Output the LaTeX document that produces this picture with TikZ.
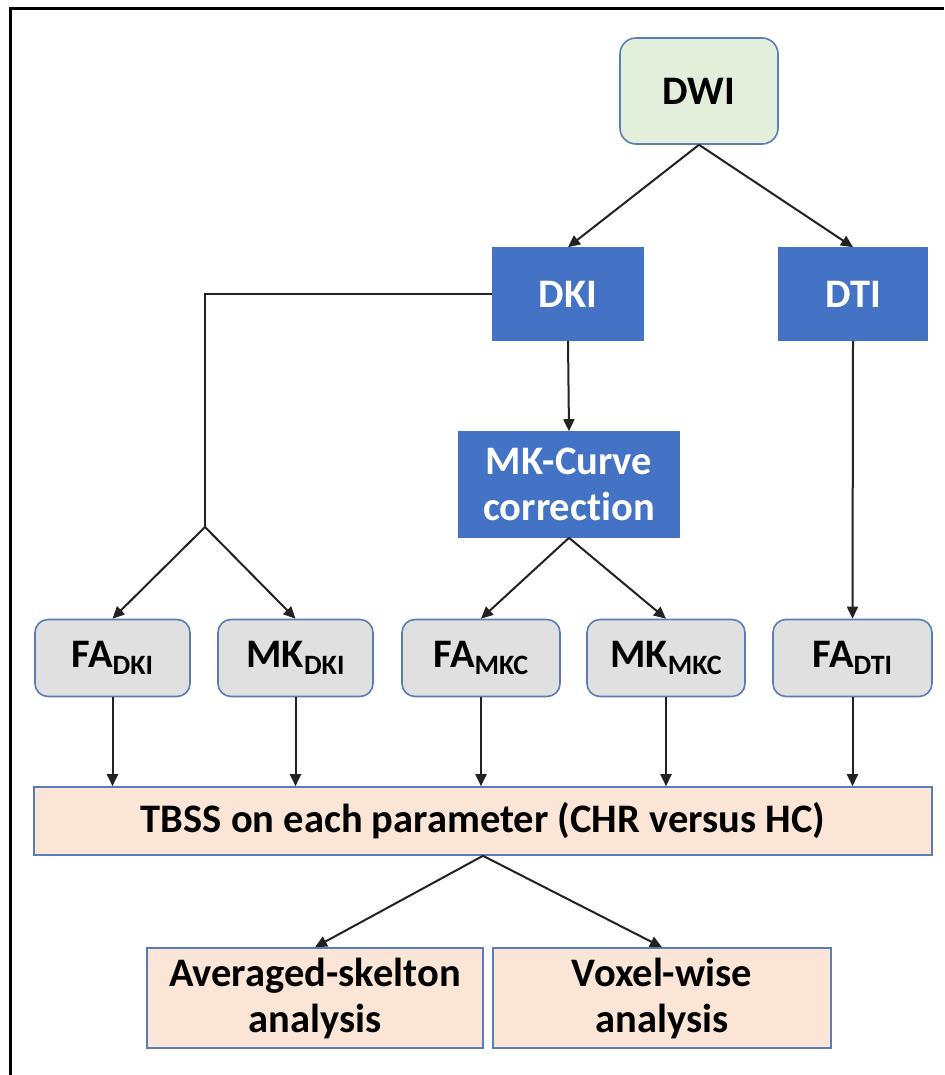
\documentclass[tikz,border=0pt]{standalone}
\usepackage{fontspec}
\setmainfont{Carlito}[Ligatures=NoCommon]
\usetikzlibrary{arrows.meta}
\definecolor{bordblue}{HTML}{5A7DB5}
\definecolor{dwifill}{HTML}{E2EFDA}
\definecolor{bluefill}{HTML}{4472C4}
\definecolor{grayfill}{HTML}{E0E0E0}
\definecolor{peach}{HTML}{FBE5D6}
\definecolor{linecol}{HTML}{222222}
\newcommand\sbx[1]{\raisebox{-7pt}{\fontsize{28}{28}\selectfont #1}}
\tikzset{
  base/.style={draw=bordblue, line width=1.6pt, inner sep=0pt, align=center,
    font=\fontsize{40.5}{46}\selectfont\bfseries},
  greenbox/.style={base, fill=dwifill, rounded corners=16pt},
  bluebox/.style={base, fill=bluefill, draw=bluefill, text=white},
  graybox/.style={base, fill=grayfill, rounded corners=13pt},
  peachbox/.style={base, fill=peach},
  conn/.style={draw=linecol, line width=2pt, -{Triangle[length=12pt,width=11pt]}},
  plainconn/.style={draw=linecol, line width=2pt}
}
\begin{document}
\begin{tikzpicture}[x=1pt,y=-1pt]
\useasboundingbox (0,0) rectangle (944,1075);
\fill[white] (0,0) rectangle (944,1075);
% partial frame (top and left)
\draw[line width=3pt, black] (10,1075) -- (10,9) -- (944,9);

\node[greenbox, minimum width=158pt, minimum height=106pt] (dwi) at (699,91) {DWI};
\node[bluebox, minimum width=150pt, minimum height=92pt] (dki) at (568,294) {DKI};
\node[bluebox, minimum width=149pt, minimum height=92pt] (dti) at (853,294) {DTI};
\node[bluebox, minimum width=220pt, minimum height=105pt] (mkc) at (569,484.5) {MK-Curve\\correction};

\node[graybox, minimum width=155pt, minimum height=77pt] (fadki) at (112.5,658) {FA\sbx{DKI}};
\node[graybox, minimum width=155pt, minimum height=77pt] (mkdki) at (295.5,658) {MK\sbx{DKI}};
\node[graybox, minimum width=158pt, minimum height=77pt] (famkc) at (481,658) {FA\sbx{MKC}};
\node[graybox, minimum width=158pt, minimum height=77pt] (mkmkc) at (666,658) {MK\sbx{MKC}};
\node[graybox, minimum width=159pt, minimum height=77pt] (fadti) at (852.5,658) {FA\sbx{DTI}};

\node[peachbox, minimum width=898pt, minimum height=68pt] (tbss) at (483,821) {TBSS on each parameter (CHR versus HC)};
\node[peachbox, minimum width=336pt, minimum height=100pt] (avg) at (315,998) {Averaged-skelton\\analysis};
\node[peachbox, minimum width=338pt, minimum height=100pt] (vox) at (662,998) {Voxel-wise\\analysis};

\coordinate (lcorner) at (205,294);
\coordinate (junc) at (205,527);

\draw[conn] (dwi.south) -- (dki.north);
\draw[conn] (dwi.south) -- (dti.north);
\draw[plainconn] (dki.west) -- (lcorner) -- (junc);
\draw[conn] (junc) -- (fadki.north);
\draw[conn] (junc) -- (mkdki.north);
\draw[conn] (dki.south) -- (mkc.north);
\draw[conn] (mkc.south) -- (famkc.north);
\draw[conn] (mkc.south) -- (mkmkc.north);
\draw[conn] (dti.south) -- (fadti.north);

\draw[conn] (fadki.south) -- (fadki.south |- tbss.north);
\draw[conn] (mkdki.south) -- (mkdki.south |- tbss.north);
\draw[conn] (famkc.south) -- (famkc.south |- tbss.north);
\draw[conn] (mkmkc.south) -- (mkmkc.south |- tbss.north);
\draw[conn] (fadti.south) -- (fadti.south |- tbss.north);

\draw[conn] (tbss.south) -- (avg.north);
\draw[conn] (tbss.south) -- (vox.north);
\end{tikzpicture}
\end{document}
